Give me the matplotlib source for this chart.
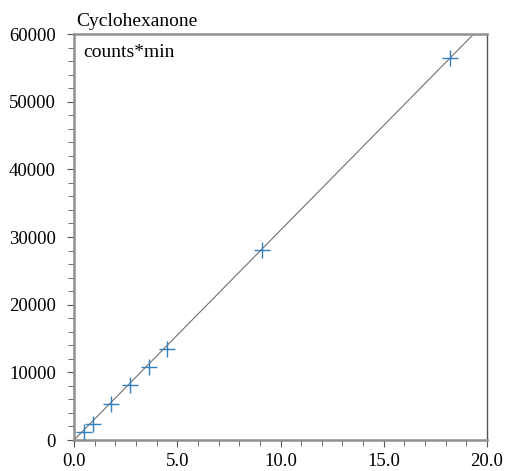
import numpy as np
import matplotlib
matplotlib.use("Agg")
import matplotlib.pyplot as plt
from matplotlib.ticker import MultipleLocator, FormatStrFormatter

plt.rcParams['font.family'] = ['Liberation Serif', 'DejaVu Serif']

# calibration points
amount = [0.49, 0.92, 1.80, 2.72, 3.64, 4.51, 9.08, 18.2]
area = [1180, 2370, 5330, 8140, 10800, 13460, 28100, 56500]

# fitted line through origin
slope = 3100
fit_x = [0.0, 20.0]
fit_y = [slope * v for v in fit_x]

fig = plt.figure(figsize=(5.05, 4.71), dpi=100)
ax = fig.add_axes([0.1465, 0.0658, 0.8179, 0.862])

ax.plot(fit_x, fit_y, color='#707070', lw=0.8, zorder=2)
ax.plot(amount, area, linestyle='none', marker='+', markersize=11,
        markeredgewidth=1.0, color='#2f7fc1', zorder=3)

ax.set_xlim(0, 20)
ax.set_ylim(0, 60000)
ax.xaxis.set_major_locator(MultipleLocator(5))
ax.xaxis.set_minor_locator(MultipleLocator(1))
ax.yaxis.set_major_locator(MultipleLocator(10000))
ax.yaxis.set_minor_locator(MultipleLocator(2000))
ax.xaxis.set_major_formatter(FormatStrFormatter('%.1f'))

ax.tick_params(which='both', direction='out', color='#555555', labelsize=13.5,
               top=False, right=False)
ax.tick_params(which='major', length=5)
ax.tick_params(which='minor', length=4)
ax.tick_params(axis='y', pad=8)
ax.tick_params(axis='x', pad=4)

for side in ['left', 'bottom', 'top']:
    ax.spines[side].set_color('#909090')
    ax.spines[side].set_linewidth(1.8)
ax.spines['right'].set_color('#555555')
ax.spines['right'].set_linewidth(1.0)

ax.text(0.005, 1.01, 'Cyclohexanone', transform=ax.transAxes, fontsize=14,
        ha='left', va='bottom')
ax.text(0.022, 0.975, 'counts*min', transform=ax.transAxes, fontsize=14,
        ha='left', va='top')

fig.savefig('out.png', dpi=100)
